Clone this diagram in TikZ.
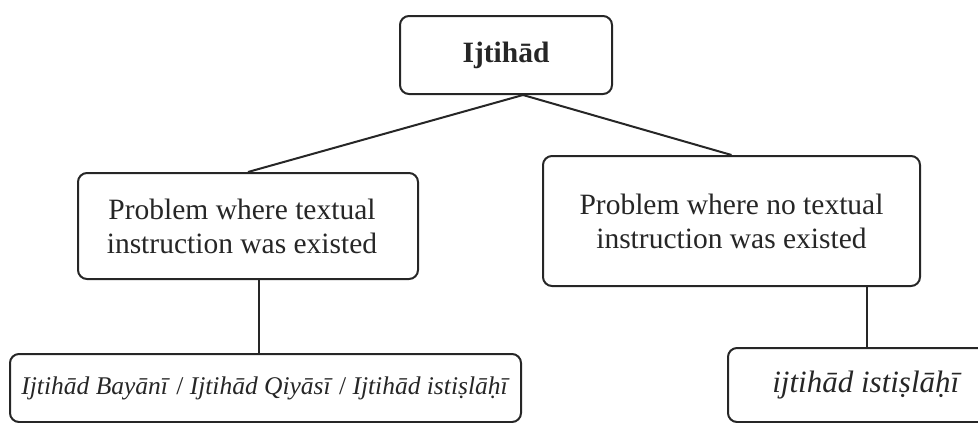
\documentclass[tikz,border=0pt]{standalone}
\usepackage{fontspec}
\setmainfont{Liberation Serif}
\usetikzlibrary{positioning}

\tikzset{
	box/.style={draw, line width=2pt, rounded corners=9pt, inner sep=0pt, align=center, font=\fontsize{29.5}{34}\selectfont},
	link/.style={line width=2pt},
}

\begin{document}
\begin{tikzpicture}[x=1pt, y=-1pt, color=black!85, line join=round]
	\useasboundingbox (0,0) rectangle (978,423);
	% top level
	\node[box, minimum width=212pt, minimum height=78pt] (ijt) at (506,55) {\textbf{Ijtihād}};
	% two kinds of problem
	\node[box, minimum width=340pt, minimum height=106pt] (probA) at (248,226) {Problem where textual\hspace*{12pt}\\ instruction was existed\hspace*{12pt}};
	\node[box, minimum width=377pt, minimum height=130pt] (probB) at (731.5,221) {Problem where no textual\\ instruction was existed};
	% methods
	\node[box, minimum width=511pt, minimum height=68pt, font=\fontsize{25.5}{30}\selectfont] (kindA) at (265.5,388) {\textit{Ijtihād Bayānī} / \textit{Ijtihād Qiyāsī} / \textit{Ijtihād istiṣlāḥī}};
	\node[box, minimum width=278pt, minimum height=74pt, font=\fontsize{31}{36}\selectfont] (kindB) at (867,385) {\textit{ijtihād istiṣlāḥī}};
	% connectors
	\draw[link] ([xshift=17pt]ijt.south) -- (probA.north);
	\draw[link] ([xshift=17pt]ijt.south) -- (probB.north);
	\draw[link] ([xshift=11pt]probA.south) -- ([xshift=11pt]probA.south |- kindA.north);
	\draw[link] (kindB.north |- probB.south) -- (kindB.north);
\end{tikzpicture}
\end{document}
